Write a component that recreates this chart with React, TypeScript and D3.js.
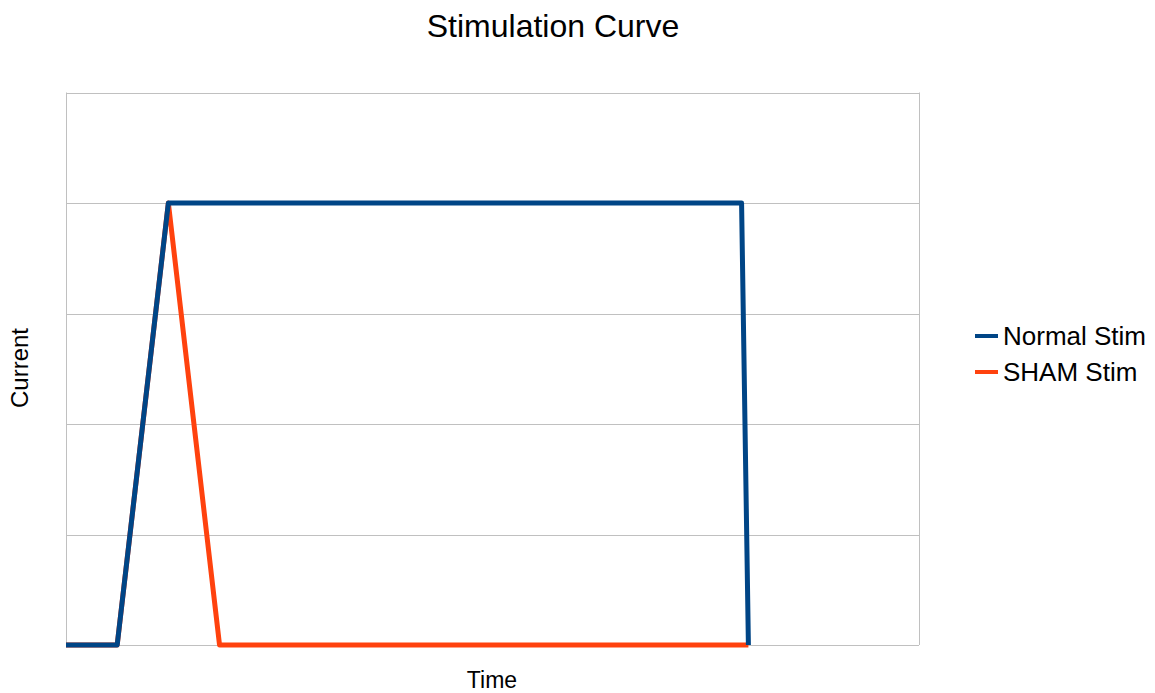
import React from "react";
import * as d3 from "d3";

const seriesNames = ["Normal Stim", "SHAM Stim"];
const seriesColors = ["#004586", "#ff420e"];
const normalTime = [0, 60, 120, 792, 800];
const normalCurrent = [0, 0, 4, 4, 0];
const shamTime = [0, 60, 120, 180, 800];
const shamCurrent = [0, 0, 4, 0, 0];
const yTicks = [0, 1, 2, 3, 4, 5];

const W = 1155;
const H = 693;
const plot = { left: 66, right: 919, top: 92.5, bottom: 645 };

export default function App() {
  const x = d3.scaleLinear().domain([0, 1000]).range([plot.left, plot.right]);
  const y = d3.scaleLinear().domain([0, 5]).range([plot.bottom, plot.top]);
  const line = d3
    .line<[number, number]>()
    .x((d) => x(d[0]))
    .y((d) => y(d[1]));
  const normal: [number, number][] = normalTime.map((t, i) => [t, normalCurrent[i]]);
  const sham: [number, number][] = shamTime.map((t, i) => [t, shamCurrent[i]]);
  const font = "'Liberation Sans', Arial, sans-serif";
  return (
    <svg
      width={W}
      height={H}
      style={{ position: "absolute", left: 0, top: 0, background: "#fff" }}
      fontFamily={font}
    >
      <rect x={0} y={0} width={W} height={H} fill="#fff" />
      {yTicks.map((t) => (
        <line
          key={t}
          x1={plot.left}
          x2={plot.right}
          y1={Math.round(y(t)) + 0.5}
          y2={Math.round(y(t)) + 0.5}
          stroke="#c0c0c0"
          strokeWidth={1}
        />
      ))}
      <line x1={plot.left + 0.5} x2={plot.left + 0.5} y1={plot.top} y2={plot.bottom} stroke="#c0c0c0" />
      <line x1={plot.right + 0.5} x2={plot.right + 0.5} y1={plot.top} y2={plot.bottom} stroke="#c0c0c0" />
      <path d={line(sham) || ""} fill="none" stroke={seriesColors[1]} strokeWidth={5} strokeLinejoin="round" />
      <path d={line(normal) || ""} fill="none" stroke={seriesColors[0]} strokeWidth={5} strokeLinejoin="round" />
      <text x={553} y={37} fontSize={32} textAnchor="middle" fill="#000">
        Stimulation Curve
      </text>
      <text x={492} y={688} fontSize={23} textAnchor="middle" fill="#000">
        Time
      </text>
      <text
        transform={`translate(28,368) rotate(-90)`}
        fontSize={24}
        textAnchor="middle"
        fill="#000"
      >
        Current
      </text>
      {seriesNames.map((name, i) => (
        <g key={name} transform={`translate(0,${336 + i * 36})`}>
          <line x1={975} x2={998} y1={0} y2={0} stroke={seriesColors[i]} strokeWidth={4} />
          <text x={1003} y={9} fontSize={26} fill="#000">
            {name}
          </text>
        </g>
      ))}
    </svg>
  );
}
